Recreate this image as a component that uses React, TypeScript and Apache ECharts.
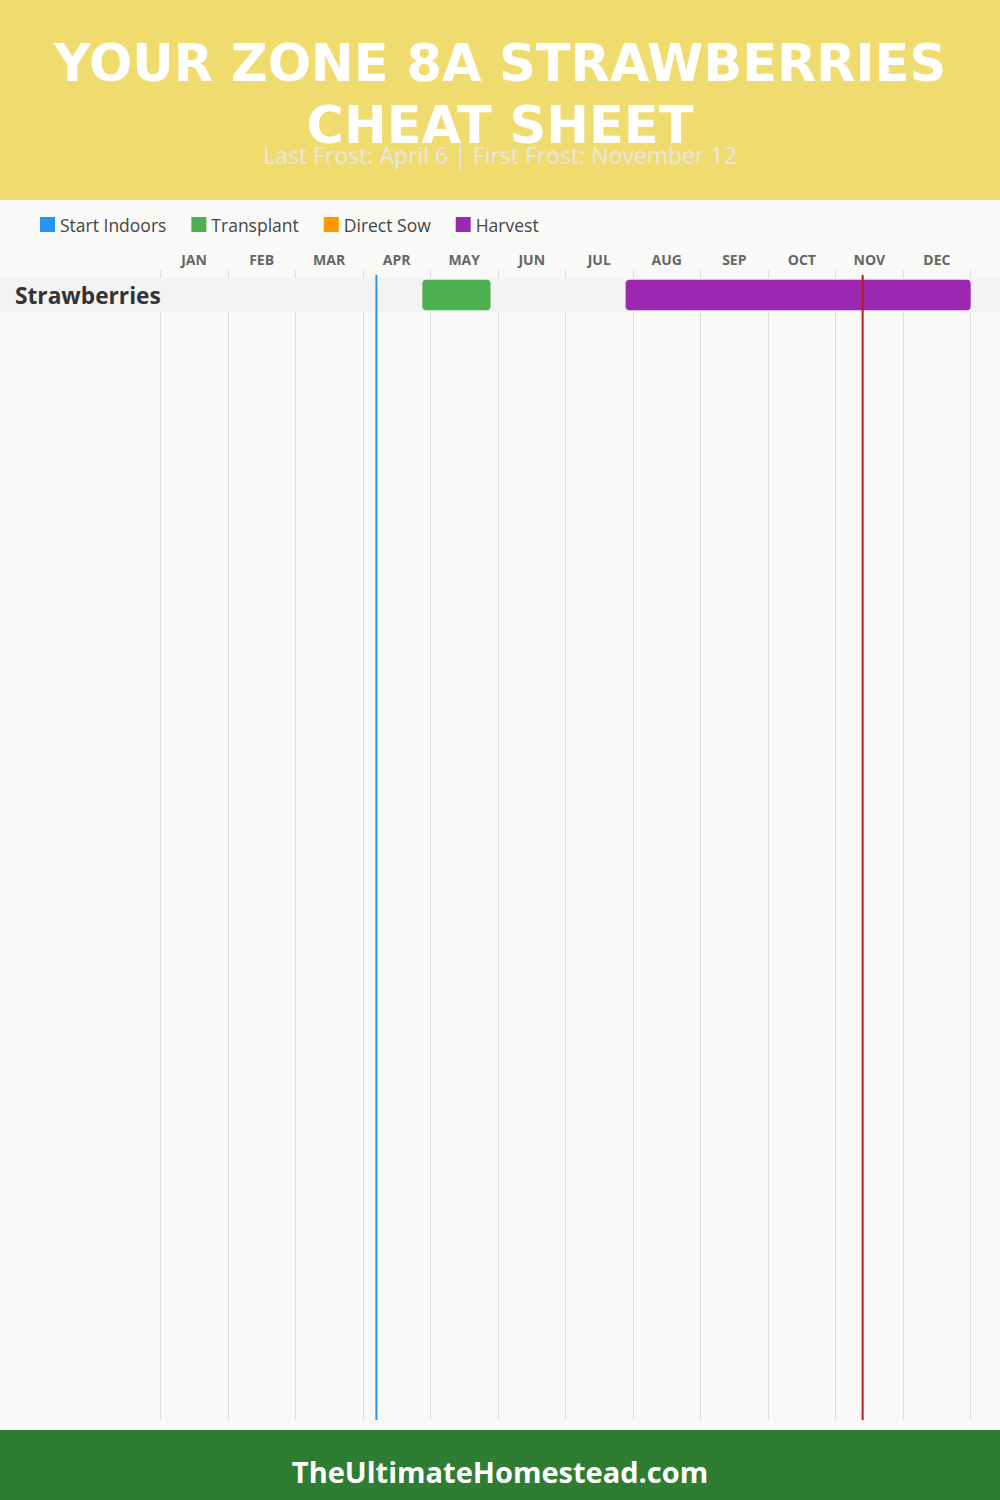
import React, { useEffect, useRef } from "react";
import * as echarts from "echarts";

const titleLines = ["YOUR ZONE 8A STRAWBERRIES", "CHEAT SHEET"];
const subtitle = "Last Frost: April 6 | First Frost: November 12";
const footerText = "TheUltimateHomestead.com";
const months = ["JAN", "FEB", "MAR", "APR", "MAY", "JUN", "JUL", "AUG", "SEP", "OCT", "NOV", "DEC"];
const crops = ["Strawberries"];
const legendNames = ["Start Indoors", "Transplant", "Direct Sow", "Harvest"];
const legendColors = ["#2196f3", "#4caf50", "#ff9800", "#9c27b0"];
// [startMonth, endMonth, cropIndex] in fractional months
const startIndoors: number[][] = [];
const transplant: number[][] = [[3.88, 4.89, 0]];
const directSow: number[][] = [];
const harvest: number[][] = [[6.89, 12, 0]];
const frostDates = [3.2, 10.4];
const frostColors = ["#2196f3", "#b71c1c"];

const FONT = "Open Sans";
const TITLE_FONT = "DejaVu Sans";

export default function App() {
  const ref = useRef<HTMLDivElement>(null);
  useEffect(() => {
    document.body.style.margin = "0";
    const chart = echarts.init(ref.current!, null, { renderer: "svg" });
    const seriesData = [startIndoors, transplant, directSow, harvest];

    const barSeries = legendNames.map((name, k) => ({
      type: "custom",
      name,
      xAxisIndex: 2,
      yAxisIndex: 1,
      z: 3,
      itemStyle: { color: legendColors[k] },
      encode: { x: [0, 1], y: 2 },
      data: seriesData[k],
      renderItem: (params: any, api: any) => {
        const s = api.coord([api.value(0), api.value(2)]);
        const e = api.coord([api.value(1), api.value(2)]);
        const h = api.size([0, 1])[1] * 0.9;
        return {
          type: "rect",
          shape: { x: s[0], y: s[1] - h / 2, width: e[0] - s[0], height: h, r: 4 },
          style: { fill: legendColors[k] },
        };
      },
    }));

    const option: any = {
      animation: false,
      backgroundColor: "#f9f9f7",
      textStyle: { fontFamily: FONT },
      legend: {
        left: 40,
        top: 215.5,
        padding: 0,
        icon: "rect",
        itemWidth: 15,
        itemHeight: 15,
        itemGap: 25,
        textStyle: { fontSize: 17.5, color: "#444", fontFamily: FONT },
        data: legendNames,
      },
      grid: [
        { left: 160.3, right: 29.3, top: 270, bottom: 80 },
        { left: 160.3, right: 29.3, top: 278, height: 34 },
      ],
      xAxis: [
        {
          type: "value",
          gridIndex: 0,
          min: 0,
          max: 12,
          interval: 1,
          axisLine: { show: false },
          axisTick: { show: false },
          axisLabel: { show: false },
          splitLine: { show: true, lineStyle: { color: "#dddddd", width: 1 } },
        },
        {
          type: "category",
          gridIndex: 0,
          position: "top",
          data: months,
          axisLine: { show: false },
          axisTick: { show: false },
          splitLine: { show: false },
          axisLabel: { margin: 4, fontSize: 14, fontWeight: "bold", color: "#666", fontFamily: FONT },
        },
        {
          type: "value",
          gridIndex: 1,
          min: 0,
          max: 12,
          show: false,
        },
      ],
      yAxis: [
        { type: "value", gridIndex: 0, min: 0, max: 1, show: false },
        {
          type: "category",
          gridIndex: 1,
          data: crops,
          inverse: true,
          z: 10,
          axisLine: { show: false },
          axisTick: { show: false },
          splitLine: { show: false },
          axisLabel: {
            align: "left",
            margin: 145.3,
            fontSize: 22.7,
            fontWeight: "bold",
            color: "#333",
            fontFamily: FONT,
          },
        },
      ],
      series: [
        {
          type: "custom",
          name: "band",
          xAxisIndex: 2,
          yAxisIndex: 1,
          z: 1,
          silent: true,
          data: crops.map((c, i) => [0, i]),
          encode: { x: 0, y: 1 },
          renderItem: (params: any, api: any) => {
            const c = api.coord([0, api.value(1)]);
            const h = api.size([0, 1])[1];
            return {
              type: "rect",
              shape: { x: 0, y: c[1] - h / 2, width: api.getWidth(), height: h },
              style: { fill: "#f3f3f3" },
            };
          },
        },
        ...barSeries,
        {
          type: "custom",
          name: "frost",
          xAxisIndex: 0,
          yAxisIndex: 0,
          z: 5,
          silent: true,
          data: frostDates.map((d) => [d, 0]),
          encode: { x: 0, y: 1 },
          renderItem: (params: any, api: any) => {
            const top = api.coord([api.value(0), 1]);
            const bot = api.coord([api.value(0), 0]);
            return {
              type: "line",
              shape: { x1: top[0], y1: top[1] + 5, x2: bot[0], y2: bot[1] },
              style: { stroke: frostColors[params.dataIndex], lineWidth: 2 },
            };
          },
        },
      ],
      graphic: [
        { type: "rect", z: 0, shape: { x: 0, y: 0, width: 1000, height: 200 }, style: { fill: "#f0db6e" } },
        {
          type: "text",
          x: 500,
          y: 63,
          z: 10,
          style: {
            text: titleLines[0],
            fill: "#ffffff",
            font: `bold 51px "${TITLE_FONT}"`,
            align: "center",
            verticalAlign: "middle",
          },
        },
        {
          type: "text",
          x: 500,
          y: 125,
          z: 10,
          style: {
            text: titleLines[1],
            fill: "#ffffff",
            font: `bold 51px "${TITLE_FONT}"`,
            align: "center",
            verticalAlign: "middle",
          },
        },
        {
          type: "text",
          x: 500,
          y: 155,
          z: 11,
          style: {
            text: subtitle,
            fill: "#e6e6e6",
            font: `400 23px "${FONT}"`,
            align: "center",
            verticalAlign: "middle",
          },
        },
        { type: "rect", z: 0, shape: { x: 0, y: 1430, width: 1000, height: 70 }, style: { fill: "#2e7d32" } },
        {
          type: "text",
          x: 500,
          y: 1471,
          z: 10,
          style: {
            text: footerText,
            fill: "#ffffff",
            font: `bold 29px "${FONT}"`,
            align: "center",
            verticalAlign: "middle",
          },
        },
      ],
    };
    chart.setOption(option);
    return () => chart.dispose();
  }, []);
  return <div ref={ref} style={{ width: 1000, height: 1500, position: "absolute", left: 0, top: 0 }} />;
}
